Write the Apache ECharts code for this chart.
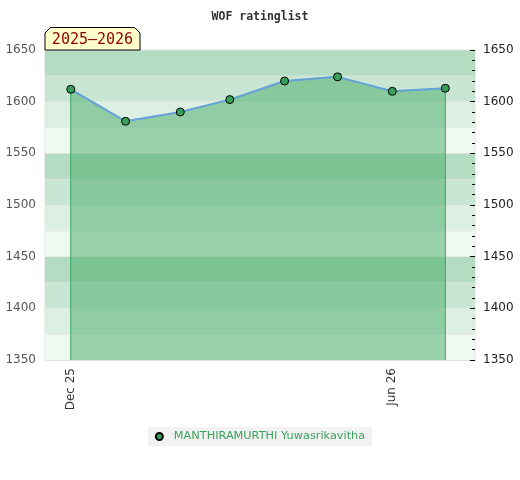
<!DOCTYPE html>
<html>
<head>
<meta charset="utf-8">
<script src="https://cdn.jsdelivr.net/npm/echarts@6/dist/echarts.min.js"></script>
<style>
  html, body { margin: 0; padding: 0; background: #fff; }
  #chart { width: 520px; height: 480px; }
</style>
</head>
<body>
<div id="chart"></div>
<script>
// rating list data (monthly)
var playerName = 'MANTHIRAMURTHI Yuwasrikavitha';
var seasonLabel = '2025\u20132026';
var dates = ['2025-12-01', '2026-01-01', '2026-02-01', '2026-03-01', '2026-04-01', '2026-05-01', '2026-06-01', '2026-07-01'];
var ratings = [1612, 1581, 1590, 1602, 1620, 1624, 1610, 1613];
var labelDates = ['2025-12-01', '2026-06-01'];
var monthNames = ['Jan', 'Feb', 'Mar', 'Apr', 'May', 'Jun', 'Jul', 'Aug', 'Sep', 'Oct', 'Nov', 'Dec'];
var bandColors = ['#f0f8f2', '#ddefe3', '#c9e6d4', '#b3dcc3'];

function toTime(s) {
    return new Date(s + 'T00:00:00').getTime();
}

function plain(v) {
    return String(v);
}

var DAY = 24 * 3600 * 1000;
var points = [];
for (var i = 0; i < dates.length; i++) {
    points.push([toTime(dates[i]), ratings[i]]);
}
var first = points[0];
var last = points[points.length - 1];

// vertical edge of the filled area, from a point down to the axis floor
function edgeSeries(p) {
    return {
        type: 'line',
        yAxisIndex: 0,
        data: [[p[0], p[1]], [p[0], 1350]],
        symbol: 'none',
        silent: true,
        z: 3,
        lineStyle: { color: '#2fa757', width: 1 },
        emphasis: { disabled: true }
    };
}

var myChart = echarts.init(document.getElementById('chart'));

var option = {
    animation: false,
    title: {
        text: 'WOF ratinglist',
        left: 'center',
        top: 6,
        textStyle: {
            fontFamily: 'DejaVu Sans Mono',
            fontWeight: 'bold',
            fontSize: 11.5,
            color: '#333'
        }
    },
    graphic: [
        {
            type: 'polygon',
            shape: { points: [[45, 50], [45, 33], [50.5, 27.5], [134.5, 27.5], [140, 33], [140, 50]] },
            style: { fill: '#ffffcc', stroke: '#000', lineWidth: 1 },
            z: 10
        },
        {
            type: 'text',
            x: 92.5,
            y: 40,
            style: {
                text: seasonLabel,
                fill: '#8b0000',
                font: '15px "DejaVu Sans Mono"',
                textAlign: 'center',
                textVerticalAlign: 'middle'
            },
            z: 11
        }
    ],
    legend: {
        left: 'center',
        top: 427,
        backgroundColor: '#f2f2f2',
        padding: [4, 7, 4, 7],
        itemWidth: 7,
        itemHeight: 7,
        icon: 'circle',
        textStyle: { color: '#3aa35c', fontSize: 11.3, fontFamily: 'DejaVu Sans', padding: [0, 0, 0, 6] },
        data: [playerName]
    },
    grid: {
        left: 45,
        right: 45,
        top: 50,
        bottom: 120,
        show: true,
        borderColor: '#dcdcdc',
        backgroundColor: 'transparent'
    },
    xAxis: {
        // dates as timestamps on a value axis
        type: 'value',
        min: first[0] - 14.6 * DAY,
        max: last[0] + 16.8 * DAY,
        axisLine: { show: true, lineStyle: { color: '#dcdcdc' } },
        axisTick: { show: false },
        splitLine: { show: false },
        axisLabel: {
            rotate: 90,
            color: '#333',
            fontSize: 12,
            fontFamily: 'DejaVu Sans',
            margin: 8,
            customValues: labelDates.map(toTime),
            formatter: function (v) {
                var d = new Date(v);
                return monthNames[d.getMonth()] + ' ' + String(d.getFullYear()).slice(2);
            }
        }
    },
    yAxis: [
        {
            type: 'value',
            position: 'left',
            min: 1350,
            max: 1650,
            interval: 50,
            axisLine: { show: false },
            axisTick: { show: false },
            splitLine: { show: false },
            axisLabel: { color: '#555', fontSize: 12, fontFamily: 'DejaVu Sans', margin: 9, formatter: plain }
        },
        {
            type: 'value',
            position: 'right',
            min: 1350,
            max: 1650,
            interval: 50,
            axisLine: { show: false },
            axisTick: { show: true, inside: true, length: 5, lineStyle: { color: '#000' } },
            minorTick: { show: true, splitNumber: 5, length: 3, lineStyle: { color: '#000' } },
            splitLine: { show: false },
            axisLabel: { color: '#222', fontSize: 12, fontFamily: 'DejaVu Sans', margin: 8, formatter: plain }
        },
        {
            // background bands every 25 points
            type: 'value',
            position: 'left',
            min: 1350,
            max: 1650,
            interval: 25,
            axisLine: { show: false },
            axisTick: { show: false },
            axisLabel: { show: false },
            splitLine: { show: true, lineStyle: { color: 'rgba(225,225,225,0.5)', width: 1 } },
            splitArea: { show: true, areaStyle: { color: bandColors } }
        }
    ],
    series: [
        {
            name: playerName,
            type: 'line',
            yAxisIndex: 0,
            data: points,
            symbol: 'circle',
            symbolSize: 8,
            z: 4,
            lineStyle: { color: '#62a1d8', width: 2 },
            itemStyle: { color: '#38a05a', borderColor: '#000', borderWidth: 1 },
            areaStyle: { color: 'rgba(70,172,101,0.5)', opacity: 1, origin: 'start' }
        },
        edgeSeries(first),
        edgeSeries(last)
    ]
};

myChart.setOption(option);
</script>
</body>
</html>
